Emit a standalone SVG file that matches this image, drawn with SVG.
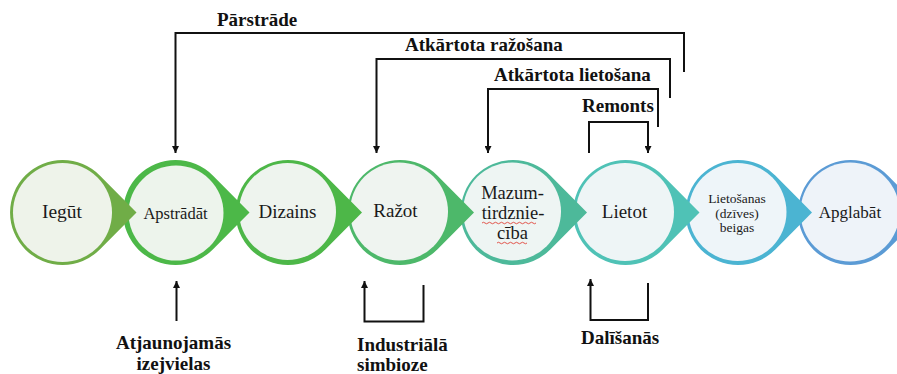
<svg xmlns="http://www.w3.org/2000/svg" width="897" height="374" viewBox="0 0 897 374">
<style>
  .node-text { font-family: 'Liberation Serif', 'DejaVu Serif', 'Times New Roman', serif; fill: #1a1a1a; text-anchor: middle; }
  .lbl { font-family: 'Liberation Serif', 'DejaVu Serif', 'Times New Roman', serif; font-weight: bold; font-size: 19px; fill: #111; }
  .conn { fill: none; stroke: #111; stroke-width: 2; }
  .squiggle { fill: none; stroke: #e0443a; stroke-width: 0.9; }
</style>
<defs>
  <marker id="arr" viewBox="0 0 10 10" refX="10" refY="5" markerWidth="7" markerHeight="7" orient="auto" markerUnits="userSpaceOnUse">
    <path d="M0,0 L10,5 L0,10 z" fill="#111"/>
  </marker>
  <path id="drop" d="M74,0 L37.3,-37 A52.5 52.5 0 1 0 37.3,37 Z"/>
</defs>
<rect width="897" height="374" fill="#ffffff"/>

<g id="node-apglabat">
  <use href="#drop" transform="translate(850.5,212.5)" fill="#5B9BD5"/>
  <circle cx="850" cy="212" r="49.5" fill="#EEF3F9"/>
  <text class="node-text" x="850" y="218" font-size="17">Apglabāt</text>
</g>
<g id="node-lietosanas-beigas">
  <use href="#drop" transform="translate(738,212.5)" fill="#4BB4D2"/>
  <circle cx="737.5" cy="212" r="49" fill="#EEF5F9"/>
  <text class="node-text" x="737" y="203" font-size="13.5">Lietošanas</text>
  <text class="node-text" x="737" y="218" font-size="13.5">(dzīves)</text>
  <text class="node-text" x="737" y="232" font-size="13.5">beigas</text>
</g>
<g id="node-lietot">
  <use href="#drop" transform="translate(625.5,212.5)" fill="#4FC2B6"/>
  <circle cx="625" cy="212" r="49" fill="#EEF5F6"/>
  <text class="node-text" x="624.5" y="218" font-size="19">Lietot</text>
</g>
<g id="node-mazumtirdznieciba">
  <use href="#drop" transform="translate(513,212.5)" fill="#4DB99A"/>
  <circle cx="512" cy="211.5" r="49" fill="#EEF5F3"/>
  <text class="node-text" x="512.5" y="199" font-size="18.5">Mazum-</text>
  <text class="node-text" x="513" y="219" font-size="18.5">tirdznie-</text>
  <text class="node-text" x="512.5" y="239" font-size="18.5">cība</text>
  <path class="squiggle" d="M482,223 q1.5,-1.5 3,0 t3,0 t3,0 t3,0 t3,0 t3,0 t3,0 t3,0 t3,0 t3,0 t3,0 t3,0 t3,0 t3,0 t3,0 t3,0 t3,0 t3,0"/>
  <path class="squiggle" d="M497,243 q1.5,-1.5 3,0 t3,0 t3,0 t3,0 t3,0 t3,0 t3,0 t3,0 t3,0 t3,0"/>
</g>
<g id="node-razot">
  <use href="#drop" transform="translate(400,212.5)" fill="#4DB86A"/>
  <circle cx="399" cy="211.5" r="49" fill="#EFF4F0"/>
  <text class="node-text" x="395.5" y="217" font-size="19">Ražot</text>
</g>
<g id="node-dizains">
  <use href="#drop" transform="translate(288,212.5)" fill="#4DB748"/>
  <circle cx="287.5" cy="211.5" r="48.5" fill="#EEF4EE"/>
  <text class="node-text" x="287.5" y="218" font-size="19">Dizains</text>
</g>
<g id="node-apstradat">
  <use href="#drop" transform="translate(175.5,212.5)" fill="#4CB848"/>
  <circle cx="176" cy="213" r="47.5" fill="#EDF4EC"/>
  <text class="node-text" x="175.5" y="219" font-size="16.5">Apstrādāt</text>
</g>
<g id="node-iegut">
  <use href="#drop" transform="translate(62.5,212.5)" fill="#70AD47"/>
  <circle cx="62.5" cy="212.5" r="49.5" fill="#EEF3EA"/>
  <text class="node-text" x="62" y="218" font-size="19.5">Iegūt</text>
</g>

<g id="connectors">
  <path class="conn" d="M684,72 V33 H175.5 V153" marker-end="url(#arr)"/>
  <path class="conn" d="M670,98 V59 H376.5 V153" marker-end="url(#arr)"/>
  <path class="conn" d="M658,127 V89 H488 V153" marker-end="url(#arr)"/>
  <path class="conn" d="M589,153 V122 H648 V153" marker-end="url(#arr)"/>
  <path class="conn" d="M176.5,321 V281" marker-end="url(#arr)"/>
  <path class="conn" d="M423.5,285 V321.5 H364.5 V281" marker-end="url(#arr)"/>
  <path class="conn" d="M648,283 V320 H590.5 V279" marker-end="url(#arr)"/>
</g>

<g id="labels">
  <text class="lbl" x="217" y="26">Pārstrāde</text>
  <text class="lbl" x="405" y="51">Atkārtota ražošana</text>
  <text class="lbl" x="494" y="81">Atkārtota lietošana</text>
  <text class="lbl" x="582" y="112">Remonts</text>
  <text class="lbl" x="173.5" y="349" text-anchor="middle">Atjaunojamās</text>
  <text class="lbl" x="173.5" y="370" text-anchor="middle">izejvielas</text>
  <text class="lbl" x="357" y="351">Industriālā</text>
  <text class="lbl" x="357" y="371">simbioze</text>
  <text class="lbl" x="581" y="344">Dalīšanās</text>
</g>
</svg>
